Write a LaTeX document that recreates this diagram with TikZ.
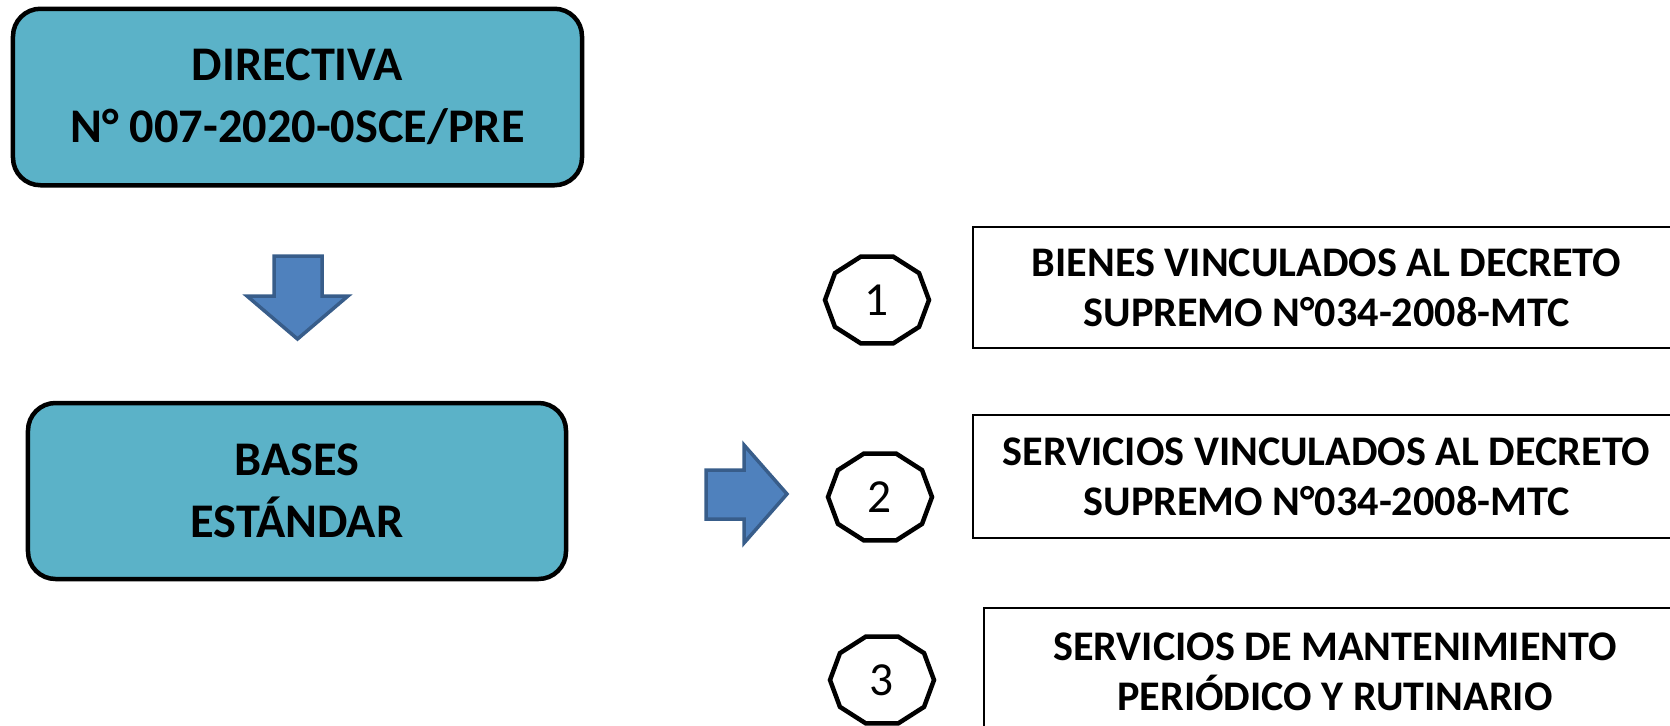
\documentclass[tikz,border=0pt]{standalone}
\usepackage{fontspec}
\setmainfont{Carlito}
\usetikzlibrary{calc}
\definecolor{boxTeal}{RGB}{91,178,200}
\definecolor{arrowBlue}{RGB}{79,129,189}
\definecolor{arrowEdge}{RGB}{56,93,138}
\newcommand{\tagShape}[1]{
    \draw[line width=0.9mm, line join=miter] ($(#1)+(0:52 and 45.7)$)
      \foreach \a in {36,72,...,324} { -- ($(#1)+(\a:52 and 45.7)$) } -- cycle;
}
\begin{document}
\begin{tikzpicture}[x=0.2mm, y=-0.2mm,
  bigbox/.style={draw=black, line width=0.9mm, fill=boxTeal, rounded corners=5.5mm,
    align=center, font=\bfseries\fontsize{27.5}{35.5}\selectfont},
  itembox/.style={draw=black, line width=0.3mm, align=center,
    font=\bfseries\fontsize{24}{28.5}\selectfont},
  blockarrow/.style={fill=arrowBlue, draw=arrowEdge, line width=0.7mm, line join=miter},
  numtag/.style={font=\fontsize{27}{27}\selectfont}]
\useasboundingbox (0,0) rectangle (1670,725);
\clip (0,0) rectangle (1670,725);

\node[bigbox, minimum width=113.8mm, minimum height=35.3mm] (directiva) at (297.5,97)
  {DIRECTIVA\\N° 007-2020-0SCE/PRE};
\node[bigbox, minimum width=107.6mm, minimum height=35.2mm] (bases) at (297,491)
  {BASES\\ESTÁNDAR};

\draw[blockarrow] (274,256) -- (322,256) -- (322,296) -- (348,296) -- (297.5,339)
  -- (247,296) -- (274,296) -- cycle;
\draw[blockarrow] (706,470) -- (744,470) -- (744,445) -- (787,494) -- (744,543)
  -- (744,519) -- (706,519) -- cycle;

\node[numtag] (num1) at (877,300) {1};
\node[numtag] (num2) at (880,497) {2};
\node[numtag] (num3) at (882,680) {3};
\tagShape{num1}
\tagShape{num2}
\tagShape{num3}

\node[itembox, minimum width=141.4mm, minimum height=24.2mm] (bienes) at (1326.5,287.5)
  {BIENES VINCULADOS AL DECRETO\\SUPREMO N°034-2008-MTC};
\node[itembox, minimum width=141.4mm, minimum height=24.6mm] (servicios) at (1326.5,476.5)
  {SERVICIOS VINCULADOS AL DECRETO\\SUPREMO N°034-2008-MTC};
\node[itembox, minimum width=140.4mm, minimum height=25.6mm] (mantenimiento) at (1335,672)
  {SERVICIOS DE MANTENIMIENTO\\PERIÓDICO Y RUTINARIO};

\end{tikzpicture}
\end{document}
